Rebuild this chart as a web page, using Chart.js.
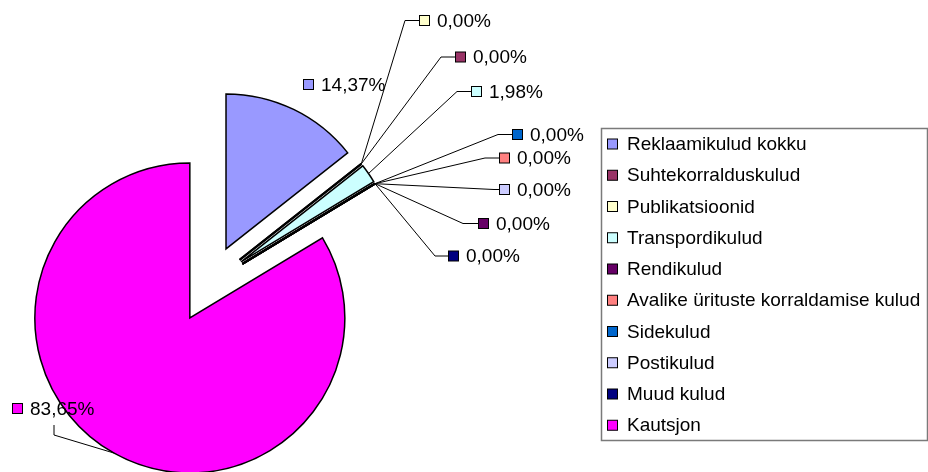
<!DOCTYPE html>
<html>
<head>
<meta charset="utf-8">
<script src="https://cdn.jsdelivr.net/npm/chart.js@4/dist/chart.umd.min.js"></script>
<style>
  html, body { margin: 0; padding: 0; background: #fff; }
  #wrap { position: relative; width: 928px; height: 472px; }
</style>
</head>
<body>
<div id="wrap"><canvas id="c" width="928" height="472"></canvas></div>
<script>
// Kulude jaotus (shares in %)
const categories = [
  "Reklaamikulud kokku",
  "Suhtekorralduskulud",
  "Publikatsioonid",
  "Transpordikulud",
  "Rendikulud",
  "Avalike ürituste korraldamise kulud",
  "Sidekulud",
  "Postikulud",
  "Muud kulud",
  "Kautsjon"
];
const shares = [14.37, 0, 0, 1.98, 0, 0, 0, 0, 0, 83.65];

const colors = [
  "#9999ff", "#993366", "#ffffcc", "#ccffff", "#660066",
  "#ff8080", "#0066cc", "#ccccff", "#000080", "#ff00ff"
];

// where each data label sits: square left x, centre y, leader points after the slice edge
const labelLayout = [
  { x: 303, y: 84.5, leader: [] },
  { x: 455, y: 57, leader: [[441, 57], [455, 57]] },
  { x: 419, y: 20.5, leader: [[405, 20.5], [419, 20.5]] },
  { x: 471, y: 91.5, leader: [[457, 91.5], [471, 91.5]] },
  { x: 478, y: 223.5, leader: [[463, 223.5], [478, 223.5]] },
  { x: 499, y: 158, leader: [[485, 158], [499, 158]] },
  { x: 512, y: 134.5, leader: [[498, 134.5], [512, 134.5]] },
  { x: 499, y: 189.5, leader: [[494, 189.5], [499, 189.5]] },
  { x: 448, y: 256, leader: [[435, 256], [448, 256]] },
  { x: 12, y: 408.5, leader: [[54, 435], [54, 425]] }
];

const EXPLODE = 39;
const FONT = '19px "Liberation Sans", Arial, sans-serif';

const fmt = (v) => v.toFixed(2).replace(".", ",") + "%";

function sliceGeom(arc) {
  const p = arc.getProps(["x", "y", "startAngle", "endAngle", "outerRadius"], true);
  const mid = (p.startAngle + p.endAngle) / 2;
  return {
    ...p,
    mid,
    cx: p.x + Math.cos(mid) * EXPLODE,
    cy: p.y + Math.sin(mid) * EXPLODE
  };
}

function box(ctx, x, cy, color) {
  ctx.fillStyle = color;
  ctx.fillRect(x + 0.5, cy - 5, 10, 10);
  ctx.strokeStyle = "#000";
  ctx.lineWidth = 1;
  ctx.strokeRect(x + 0.5, cy - 5, 10, 10);
}

// draw every slice pulled out from the centre (Excel style exploded pie)
const explodePlugin = {
  id: "explode",
  beforeDatasetDraw(chart, args) {
    const ctx = chart.ctx;
    args.meta.data.forEach((arc) => {
      const g = sliceGeom(arc);
      ctx.save();
      ctx.translate(g.cx - g.x, g.cy - g.y);
      if (g.endAngle - g.startAngle > 0) {
        arc.draw(ctx);
      } else {
        ctx.beginPath();
        ctx.moveTo(g.x, g.y);
        ctx.lineTo(g.x + Math.cos(g.startAngle) * g.outerRadius, g.y + Math.sin(g.startAngle) * g.outerRadius);
        ctx.strokeStyle = "#000";
        ctx.lineWidth = 2;
        ctx.stroke();
      }
      ctx.restore();
    });
    return false;
  }
};

const labelPlugin = {
  id: "labels",
  afterDraw(chart) {
    const ctx = chart.ctx;
    const arcs = chart.getDatasetMeta(0).data;
    ctx.save();
    ctx.font = FONT;
    ctx.textBaseline = "alphabetic";

    arcs.forEach((arc, i) => {
      const g = sliceGeom(arc);
      const lay = labelLayout[i];
      if (lay.leader.length) {
        const ang = g.endAngle - g.startAngle > 0 ? g.mid : g.startAngle;
        ctx.beginPath();
        ctx.moveTo(g.cx + Math.cos(ang) * g.outerRadius, g.cy + Math.sin(ang) * g.outerRadius);
        lay.leader.forEach(([lx, ly]) => ctx.lineTo(lx, ly));
        ctx.strokeStyle = "#000";
        ctx.lineWidth = 1;
        ctx.stroke();
      }
      box(ctx, lay.x, lay.y, colors[i]);
      ctx.fillStyle = "#000";
      ctx.fillText(fmt(shares[i]), lay.x + 18, lay.y + 6);
    });

    // legend
    ctx.strokeStyle = "#7a7a7a";
    ctx.lineWidth = 1.5;
    ctx.strokeRect(601.5, 128.5, 326, 312);
    categories.forEach((name, i) => {
      const cy = 144 + i * 31.25;
      box(ctx, 607, cy, colors[i]);
      ctx.fillStyle = "#000";
      ctx.fillText(name, 627, cy + 6);
    });
    ctx.restore();
  }
};

new Chart(document.getElementById("c"), {
  type: "pie",
  data: {
    labels: categories,
    datasets: [{
      data: shares,
      backgroundColor: colors,
      borderColor: "#000",
      borderWidth: 1.5,
      borderJoinStyle: "miter"
    }]
  },
  options: {
    responsive: false,
    animation: false,
    events: [],
    radius: 155,
    layout: { padding: { left: 0, right: 510, top: 96, bottom: 0 } },
    plugins: {
      legend: { display: false },
      tooltip: { enabled: false }
    }
  },
  plugins: [explodePlugin, labelPlugin]
});
</script>
</body>
</html>
